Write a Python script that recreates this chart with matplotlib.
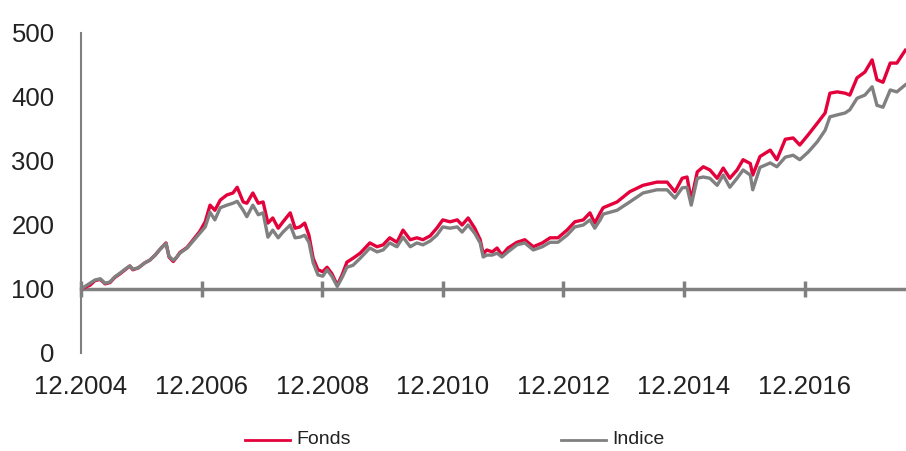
import numpy as np
import matplotlib.pyplot as plt
from matplotlib.lines import Line2D

# --- data ---
years = [2004.92, 2005.07, 2005.15, 2005.24, 2005.32, 2005.40, 2005.48, 2005.57, 2005.65, 2005.73,
         2005.78, 2005.87, 2005.98, 2006.06, 2006.15, 2006.23, 2006.33, 2006.38, 2006.45, 2006.51,
         2006.56, 2006.68, 2006.78, 2006.89, 2006.98, 2007.06, 2007.14, 2007.23, 2007.34, 2007.44,
         2007.51, 2007.61, 2007.67, 2007.77, 2007.86, 2007.94, 2008.02, 2008.10, 2008.19, 2008.27,
         2008.39, 2008.47, 2008.55, 2008.63, 2008.70, 2008.77, 2008.85, 2008.93, 2009.00, 2009.08,
         2009.17, 2009.25, 2009.33, 2009.43, 2009.55, 2009.71, 2009.83, 2009.93, 2010.04, 2010.16,
         2010.26, 2010.38, 2010.49, 2010.59, 2010.71, 2010.82, 2010.92, 2011.04, 2011.16, 2011.24,
         2011.34, 2011.45, 2011.54, 2011.59, 2011.65, 2011.74, 2011.82, 2011.90, 2012.00, 2012.15,
         2012.28, 2012.42, 2012.57, 2012.70, 2012.83, 2012.98, 2013.11, 2013.25, 2013.36, 2013.44,
         2013.53, 2013.58, 2013.81, 2014.02, 2014.24, 2014.47, 2014.64, 2014.77, 2014.89, 2014.97,
         2015.04, 2015.14, 2015.24, 2015.35, 2015.47, 2015.57, 2015.68, 2015.80, 2015.90, 2016.02,
         2016.06, 2016.18, 2016.35, 2016.46, 2016.60, 2016.73, 2016.84, 2016.98, 2017.13, 2017.26,
         2017.34, 2017.46, 2017.59, 2017.67, 2017.79, 2017.92, 2018.04, 2018.12, 2018.22, 2018.34,
         2018.45, 2018.59]

fonds = [100, 106, 113, 115, 108, 110, 118, 124, 130, 136, 130, 133, 141, 145, 153, 162,
         172, 150, 143, 150, 157, 165, 177, 190, 205, 231, 223, 239, 247, 250, 259, 236,
         234, 250, 234, 236, 203, 211, 195, 205, 219, 195, 197, 203, 184, 148, 130, 127,
         134, 124, 106, 122, 142, 148, 156, 172, 166, 169, 180, 173, 192, 177, 180, 177,
         183, 195, 208, 205, 208, 200, 211, 195, 177, 155, 161, 158, 164, 153, 164, 173,
         177, 166, 172, 180, 180, 192, 205, 208, 219, 203, 219, 227, 236, 252, 262, 267,
         267, 252, 273, 275, 239, 283, 291, 286, 273, 289, 273, 286, 302, 296, 278, 307,
         317, 302, 334, 336, 325, 341, 359, 375, 406, 408, 406, 403, 430, 439, 458, 427,
         423, 453, 453, 473]

indice = [100, 109, 114, 116, 109, 111, 119, 125, 131, 136, 131, 133, 141, 145, 153, 162,
          171, 151, 145, 150, 156, 164, 175, 187, 197, 220, 208, 227, 231, 234, 237, 223,
          213, 231, 216, 219, 181, 192, 180, 189, 200, 180, 181, 184, 173, 141, 122, 120,
          130, 120, 104, 118, 134, 137, 148, 164, 158, 161, 172, 166, 181, 166, 172, 169,
          175, 184, 197, 195, 197, 189, 200, 187, 172, 150, 153, 153, 156, 150, 158, 169,
          172, 161, 166, 173, 173, 184, 197, 200, 208, 195, 208, 217, 223, 236, 250, 255,
          255, 242, 258, 259, 231, 273, 275, 273, 262, 278, 259, 273, 286, 278, 255, 290,
          297, 291, 306, 309, 302, 314, 330, 348, 369, 372, 375, 380, 398, 403, 416, 387,
          384, 411, 408, 419]

tick_years = [2004.92, 2006.92, 2008.92, 2010.92, 2012.92, 2014.92, 2016.92]
tick_labels = ["12.2004", "12.2006", "12.2008", "12.2010", "12.2012", "12.2014", "12.2016"]
y_ticks = [0, 100, 200, 300, 400, 500]

RED = '#E4003A'
GRAY = '#808080'
TXT = '#222222'

plt.rcParams['font.family'] = ['Liberation Sans', 'DejaVu Sans']

fig = plt.figure(figsize=(9.06, 4.51), dpi=100)
ax = fig.add_axes([81 / 906, (451 - 353) / 451, 1 - 81 / 906, 320 / 451])

ax.plot(years, fonds, color=RED, lw=2.4, solid_joinstyle='round')
ax.plot(years, indice, color=GRAY, lw=2.4, solid_joinstyle='round')

ax.set_xlim(2004.92, 2004.92 + 825 / 60.3)
ax.set_ylim(0, 500)

for s in ['top', 'right']:
    ax.spines[s].set_visible(False)
ax.spines['left'].set_color(GRAY)
ax.spines['left'].set_linewidth(1.5)
ax.spines['bottom'].set_position(('data', 100))
ax.spines['bottom'].set_color(GRAY)
ax.spines['bottom'].set_linewidth(2.5)
ax.spines['bottom'].set_zorder(1)

ax.set_xticks(tick_years)
ax.set_xticklabels(tick_labels)
ax.set_yticks(y_ticks)
ax.tick_params(axis='x', direction='inout', length=12, width=2.5, color=GRAY,
               pad=56, labelsize=18.5, labelcolor=TXT)
ax.tick_params(axis='y', length=0, pad=19, labelsize=18.5, labelcolor=TXT)

# legend, drawn by hand below the axes
ly = 1 - 440 / 451
fig.add_artist(Line2D([245 / 906, 290 / 906], [ly, ly], color=RED, lw=2))
fig.text(296 / 906, ly, "Fonds", color=TXT, fontsize=14, va='center', ha='left')
fig.add_artist(Line2D([561 / 906, 606 / 906], [ly, ly], color=GRAY, lw=2))
fig.text(612 / 906, ly, "Indice", color=TXT, fontsize=14, va='center', ha='left')

fig.savefig('out.png', dpi=100)
